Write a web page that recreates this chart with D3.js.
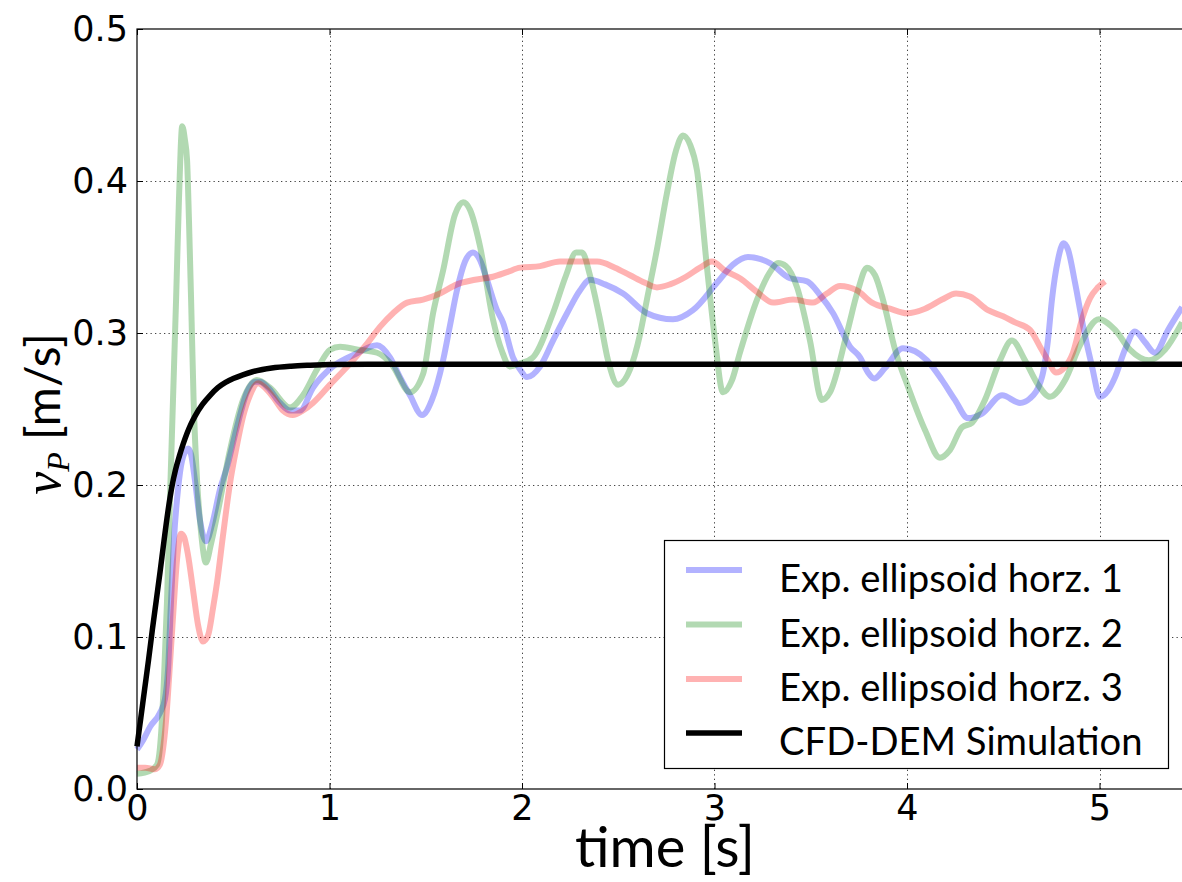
<!DOCTYPE html>
<html>
<head>
<meta charset="utf-8">
<script src="https://cdn.jsdelivr.net/npm/d3@7"></script>
<style>
  body { margin: 0; background: #fff; }
  svg { display: block; }
</style>
</head>
<body>
<svg id="chart" width="1182" height="882"></svg>
<script>
// ---- data -------------------------------------------------------------
const xTicks = [0, 1, 2, 3, 4, 5];
const yTicks = [0, 0.1, 0.2, 0.3, 0.4, 0.5];
const seriesNames = ["Exp. ellipsoid horz. 1", "Exp. ellipsoid horz. 2",
                     "Exp. ellipsoid horz. 3", "CFD-DEM Simulation"];

// Exp. ellipsoid horz. 1 (time [s], velocity [m/s])
const time1 = [0.000,0.031,0.068,0.119,0.145,0.161,0.177,0.192,0.213,0.234,0.265,0.281,0.301,0.327,0.358,0.390,0.431,0.468,0.519,0.571,0.613,0.639,0.681,0.743,0.795,0.847,0.914,1.018,1.132,1.247,1.314,1.366,1.418,1.481,1.532,1.590,1.626,1.662,1.704,1.745,1.782,1.818,1.870,1.901,1.953,1.990,2.026,2.094,2.161,2.234,2.301,2.353,2.431,2.525,2.649,2.784,2.888,3.013,3.096,3.174,3.288,3.392,3.481,3.548,3.616,3.704,3.756,3.797,3.829,3.886,3.979,4.042,4.104,4.182,4.249,4.317,4.390,4.494,4.587,4.639,4.701,4.732,4.753,4.784,4.813,4.836,4.873,4.914,4.961,5.003,5.044,5.081,5.132,5.184,5.236,5.288,5.356,5.429];
const speed1 = [0.026,0.032,0.041,0.050,0.059,0.078,0.124,0.164,0.197,0.216,0.224,0.220,0.203,0.177,0.163,0.174,0.197,0.212,0.238,0.261,0.268,0.268,0.264,0.254,0.249,0.249,0.264,0.278,0.286,0.292,0.284,0.271,0.259,0.246,0.256,0.282,0.305,0.328,0.347,0.353,0.348,0.335,0.315,0.307,0.284,0.276,0.271,0.278,0.295,0.313,0.328,0.335,0.332,0.326,0.313,0.309,0.315,0.333,0.345,0.350,0.346,0.336,0.334,0.325,0.313,0.291,0.284,0.274,0.270,0.277,0.290,0.288,0.282,0.269,0.256,0.244,0.247,0.259,0.254,0.257,0.271,0.295,0.322,0.348,0.359,0.355,0.333,0.305,0.278,0.258,0.262,0.271,0.289,0.301,0.294,0.287,0.302,0.317];

// Exp. ellipsoid horz. 2
const time2 = [0.000,0.068,0.104,0.125,0.140,0.156,0.171,0.187,0.203,0.218,0.235,0.249,0.260,0.270,0.281,0.294,0.312,0.332,0.358,0.384,0.416,0.483,0.551,0.623,0.691,0.795,0.862,0.935,1.003,1.055,1.148,1.247,1.325,1.418,1.486,1.538,1.590,1.652,1.694,1.730,1.782,1.849,1.896,1.938,1.990,2.057,2.161,2.229,2.281,2.312,2.353,2.405,2.447,2.499,2.561,2.613,2.649,2.701,2.753,2.800,2.836,2.873,2.909,2.961,3.003,3.044,3.091,3.132,3.221,3.288,3.330,3.371,3.429,3.496,3.558,3.600,3.688,3.745,3.792,3.834,3.875,3.938,4.010,4.094,4.171,4.223,4.286,4.338,4.405,4.483,4.545,4.613,4.681,4.743,4.821,4.899,4.997,5.081,5.158,5.257,5.340,5.429];
const speed2 = [0.010,0.012,0.016,0.036,0.072,0.124,0.190,0.256,0.322,0.388,0.436,0.427,0.414,0.374,0.322,0.256,0.203,0.170,0.149,0.161,0.180,0.223,0.256,0.269,0.264,0.251,0.259,0.276,0.289,0.291,0.289,0.287,0.279,0.261,0.273,0.313,0.341,0.378,0.386,0.381,0.357,0.309,0.288,0.278,0.280,0.284,0.313,0.338,0.353,0.353,0.338,0.309,0.282,0.266,0.276,0.299,0.322,0.355,0.392,0.420,0.430,0.424,0.407,0.343,0.295,0.261,0.269,0.287,0.322,0.340,0.346,0.344,0.330,0.295,0.256,0.261,0.300,0.328,0.343,0.338,0.322,0.289,0.263,0.236,0.218,0.223,0.238,0.241,0.256,0.282,0.295,0.282,0.266,0.258,0.269,0.292,0.309,0.302,0.289,0.282,0.289,0.307];

// Exp. ellipsoid horz. 3
const time3 = [0.000,0.042,0.094,0.119,0.135,0.151,0.166,0.187,0.208,0.229,0.244,0.265,0.291,0.317,0.343,0.369,0.395,0.416,0.447,0.483,0.519,0.551,0.587,0.629,0.665,0.706,0.758,0.810,0.862,0.914,1.003,1.122,1.195,1.262,1.330,1.403,1.486,1.574,1.662,1.756,1.849,1.922,1.990,2.094,2.197,2.301,2.390,2.483,2.561,2.639,2.701,2.769,2.852,2.925,2.987,3.055,3.132,3.221,3.304,3.408,3.512,3.584,3.652,3.740,3.818,3.912,4.000,4.094,4.182,4.255,4.327,4.421,4.499,4.561,4.639,4.691,4.732,4.774,4.816,4.862,4.909,4.951,4.992,5.029];
const speed3 = [0.014,0.014,0.013,0.016,0.026,0.045,0.072,0.113,0.151,0.168,0.166,0.154,0.131,0.108,0.097,0.101,0.119,0.136,0.167,0.201,0.226,0.245,0.259,0.267,0.264,0.258,0.249,0.246,0.249,0.254,0.266,0.282,0.293,0.304,0.313,0.320,0.322,0.326,0.332,0.335,0.337,0.340,0.343,0.344,0.347,0.347,0.347,0.343,0.338,0.333,0.330,0.332,0.337,0.343,0.347,0.341,0.336,0.327,0.320,0.322,0.320,0.326,0.331,0.328,0.320,0.316,0.313,0.316,0.322,0.326,0.324,0.315,0.311,0.307,0.302,0.291,0.282,0.274,0.277,0.287,0.309,0.323,0.330,0.334];

// CFD-DEM Simulation
const timeSim  = [0.00,0.02,0.04,0.06,0.08,0.10,0.12,0.14,0.16,0.18,0.20,0.22,0.24,0.26,0.28,0.30,0.34,0.38,0.42,0.46,0.50,0.55,0.60,0.70,0.80,0.90,1.00,1.20,5.50];
const speedSim = [0.028,0.047,0.066,0.085,0.105,0.124,0.143,0.163,0.182,0.198,0.210,0.219,0.227,0.234,0.240,0.245,0.253,0.259,0.264,0.2675,0.270,0.2725,0.2745,0.2770,0.2782,0.2788,0.2792,0.2795,0.2795];

const seriesColors  = ["#0000ff", "#008000", "#ff0000", "#000000"];
const seriesOpacity = [0.3, 0.3, 0.3, 1];
const seriesWidth   = [6, 6, 6, 5.5];

// ---- layout -----------------------------------------------------------
const svg = d3.select("#chart");
const plotLeft = 137, plotTop = 29, plotBottom = 789;
const x = d3.scaleLinear().domain([0, 5.5]).range([plotLeft, 1195.75]);
const y = d3.scaleLinear().domain([0, 0.5]).range([plotBottom, plotTop]);

const tickFont = "'DejaVu Sans', sans-serif";
const textFont = "Lato, 'Open Sans', sans-serif";

// grid
const grid = svg.append("g")
  .attr("stroke", "#444").attr("stroke-width", 1)
  .attr("stroke-dasharray", "1.3,3.2");
grid.selectAll(".gx").data(xTicks.filter(d => d > 0)).join("line")
  .attr("x1", d => Math.round(x(d)) + 0.5).attr("x2", d => Math.round(x(d)) + 0.5)
  .attr("y1", y(0)).attr("y2", y(0.5));
grid.selectAll(".gy").data(yTicks.filter(d => d > 0 && d < 0.5)).join("line")
  .attr("y1", d => Math.round(y(d)) + 0.5).attr("y2", d => Math.round(y(d)) + 0.5)
  .attr("x1", x(0)).attr("x2", x(5.5));

// series
const series = [
  [time1, speed1], [time2, speed2], [time3, speed3], [timeSim, speedSim]
];
const line = d3.line().x(d => x(d[0])).y(d => y(d[1])).curve(d3.curveMonotoneX);
series.forEach(([ts, vs], i) => {
  svg.append("path")
    .datum(ts.map((t, k) => [t, vs[k]]))
    .attr("fill", "none")
    .attr("stroke", seriesColors[i])
    .attr("stroke-opacity", seriesOpacity[i])
    .attr("stroke-width", seriesWidth[i])
    .attr("stroke-linejoin", "round")
    .attr("d", line);
});

// axes (ticks point inward)
const xAxis = svg.append("g").attr("transform", `translate(0,${plotBottom})`)
  .call(d3.axisBottom(x).tickValues(xTicks).tickFormat(d3.format("d"))
        .tickSizeInner(-6).tickSizeOuter(0));
const xTop = svg.append("g").attr("transform", `translate(0,${plotTop})`)
  .call(d3.axisTop(x).tickValues(xTicks).tickFormat("")
        .tickSizeInner(-6).tickSizeOuter(0));
const yAxis = svg.append("g").attr("transform", `translate(${plotLeft},0)`)
  .call(d3.axisLeft(y).tickValues(yTicks).tickFormat(d3.format(".1f"))
        .tickSizeInner(-6).tickSizeOuter(0));

[xAxis, xTop, yAxis].forEach(g => {
  g.select(".domain").remove();
  g.selectAll(".tick line").attr("stroke", "#000").attr("stroke-width", 1);
});
xAxis.selectAll(".tick text")
  .attr("y", 31).attr("dy", 0)
  .attr("font-family", tickFont).attr("font-size", 35).attr("fill", "#000");
yAxis.selectAll(".tick text")
  .attr("x", -9).attr("dy", 0).attr("y", 11)
  .attr("font-family", tickFont).attr("font-size", 35).attr("fill", "#000");

// frame (right edge falls beyond the canvas)
svg.append("rect")
  .attr("x", x(0)).attr("y", y(0.5))
  .attr("width", x(5.5) - x(0)).attr("height", y(0) - y(0.5))
  .attr("fill", "none").attr("stroke", "#000").attr("stroke-width", 1.2);

// axis titles
const xTitle = svg.append("text")
  .attr("x", 665).attr("y", 867).attr("text-anchor", "middle")
  .attr("font-family", textFont).attr("font-size", 42).attr("fill", "#000")
  .text("time [s]");

const yTitle = svg.append("text")
  .attr("transform", "translate(60,414) rotate(-90)")
  .attr("text-anchor", "middle").attr("fill", "#000");
yTitle.append("tspan")
  .attr("font-family", "'Liberation Serif', 'DejaVu Serif', serif")
  .attr("font-style", "italic").attr("font-size", 52).text("v");
yTitle.append("tspan")
  .attr("font-family", "'Liberation Serif', 'DejaVu Serif', serif")
  .attr("font-style", "italic").attr("font-size", 32).attr("dy", 9).text("P");
yTitle.append("tspan")
  .attr("font-family", textFont).attr("font-size", 48).attr("dy", -9)
  .text("\u00a0[m/s]");

// legend
const legend = svg.append("g");
legend.append("rect")
  .attr("x", 664.5).attr("y", 540.5).attr("width", 504).attr("height", 228)
  .attr("fill", "#fff").attr("stroke", "#000").attr("stroke-width", 1.2);
const rowY = [570, 624.5, 679, 733];
const labels = [];
seriesNames.forEach((name, i) => {
  legend.append("line")
    .attr("x1", 686).attr("x2", 742).attr("y1", rowY[i]).attr("y2", rowY[i])
    .attr("stroke", seriesColors[i]).attr("stroke-opacity", seriesOpacity[i])
    .attr("stroke-width", seriesWidth[i]);
  labels.push(legend.append("text")
    .attr("x", 779).attr("y", rowY[i] + 22)
    .attr("font-family", textFont).attr("font-size", 34).attr("fill", "#000")
    .text(name));
});

// size the legend and title text to their intended widths
const w0 = labels[0].node().getComputedTextLength();
if (w0 > 0) {
  const fs = 34 * 344 / w0;
  labels.forEach(l => l.attr("font-size", fs));
}
const wt = xTitle.node().getComputedTextLength();
if (wt > 0) xTitle.attr("font-size", 42 * 180 / wt);
</script>
</body>
</html>
